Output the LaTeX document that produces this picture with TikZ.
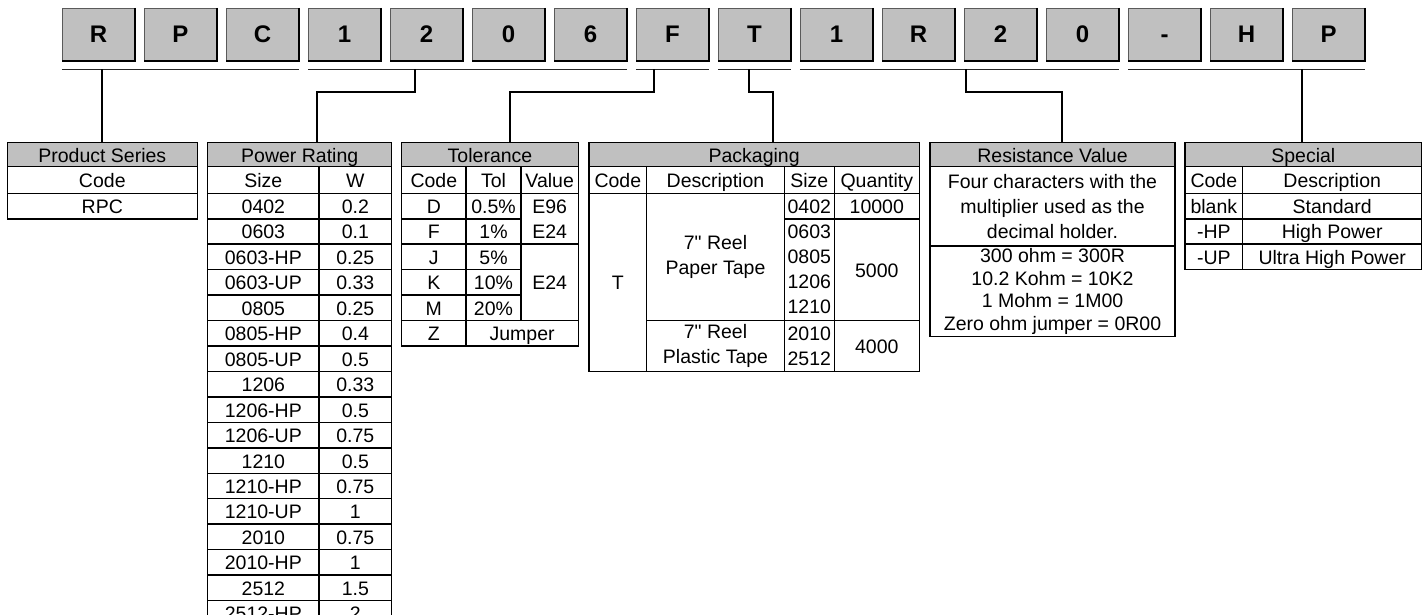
\documentclass[tikz,border=0pt]{standalone}
\usepackage{fontspec}
\setmainfont{Liberation Sans}[Ligatures=TeXOff]
\usetikzlibrary{calc,positioning}
\definecolor{hdrgray}{HTML}{C0C0C0}
\definecolor{rimgray}{HTML}{5A5A5A}
\tikzset{
  digitbox/.style={draw=rimgray,fill=hdrgray,line width=1pt,inner sep=0pt,
    minimum width=72.5pt,minimum height=51.7pt,text height=17.2pt,text depth=0pt,
    font=\fontsize{24}{28}\selectfont\bfseries},
  boxshade/.style={draw=black,line width=2pt},
  uline/.style={draw=black!85,line width=1.5pt},
  conn/.style={draw=black,line width=2pt},
  cellbox/.style={draw=black,line width=1.5pt,inner sep=0pt},
  oneline/.style={text height=15pt,text depth=0pt},
  multi/.style={align=center},
  hdr/.style={fill=hdrgray}}
% cell from (x1,y1) to (x2,y2)
\newcommand\tcell[7][oneline]{%
  \node[cellbox,#1,minimum width=#5pt-#3pt,minimum height=#6pt-#4pt]
    (#2) at ({(#3+#5)/2},{(#4+#6)/2}) {#7};}

\begin{document}
\begin{tikzpicture}[x=1pt,y=-1pt,every node/.style={font=\fontsize{19.5}{25}\selectfont}]
\useasboundingbox (0,0) rectangle (1427,615);
\clip (0,0) rectangle (1427,615);

% part number boxes
\foreach \c [count=\i from 0] in {R,P,C,1,2,0,6,F,T,1,R,2,0,-,H,P}{
  \node[digitbox] (b\i) at (98.5+82*\i,34.2) {\c};
  \draw[boxshade] (b\i.north east) -- (b\i.south east) -- (b\i.south west);
}
\coordinate (ul) at (0,69.5);
\foreach \p/\q in {0/2,3/6,7/7,8/8,9/12,13/15}
  \draw[uline] (b\p.west |- ul) -- (b\q.east |- ul);

% product series
\tcell[oneline,hdr]{hdSer}{7.3}{142.3}{197.3}{166.7}{Product Series}
\tcell{serCode}{7.3}{166.7}{197.3}{193.3}{Code}
\tcell{serRPC}{7.3}{193.3}{197.3}{218.75}{RPC}

% power rating
\tcell[oneline,hdr]{hdPow}{207.7}{142.3}{391.7}{166.7}{Power Rating}
\tcell{powSize}{207.7}{166.7}{319}{193.3}{Size}
\tcell{powW}{319}{166.7}{391.7}{193.3}{W}
\foreach \s/\w [count=\i from 0] in {0402/0.2,0603/0.1,0603-HP/0.25,0603-UP/0.33,
    0805/0.25,0805-HP/0.4,0805-UP/0.5,1206/0.33,1206-HP/0.5,1206-UP/0.75,
    1210/0.5,1210-HP/0.75,1210-UP/1,2010/0.75,2010-HP/1,2512/1.5,2512-HP/2}{
  \pgfmathsetmacro\ya{193.3+25.45*\i}
  \pgfmathsetmacro\yb{\ya+25.45}
  \tcell{powS\i}{207.7}{\ya}{319}{\yb}{\s}
  \tcell{powV\i}{319}{\ya}{391.7}{\yb}{\w}
}

% tolerance
\tcell[oneline,hdr]{hdTol}{401.7}{142.3}{578.3}{166.7}{Tolerance}
\tcell{tolCode}{401.7}{166.7}{466}{193.3}{Code}
\tcell{tolTol}{466}{166.7}{521}{193.3}{Tol}
\tcell{tolVal}{521}{166.7}{578.3}{193.3}{Value}
\foreach \k/\t [count=\i from 0] in {D/0.5\%,F/1\%,J/5\%,K/10\%,M/20\%}{
  \pgfmathsetmacro\ya{193.3+25.45*\i}
  \pgfmathsetmacro\yb{\ya+25.45}
  \tcell{tolK\i}{401.7}{\ya}{466}{\yb}{\k}
  \tcell{tolT\i}{466}{\ya}{521}{\yb}{\t}
}
\tcell[multi]{tolE1}{521}{193.3}{578.3}{244.2}{E96\\E24}
\tcell{tolE2}{521}{244.2}{578.3}{320.55}{E24}
\tcell{tolZ}{401.7}{320.55}{466}{346}{Z}
\tcell{tolJmp}{466}{320.55}{578.3}{346}{Jumper}

% packaging
\tcell[oneline,hdr]{hdPack}{589}{142.3}{919.3}{166.7}{Packaging}
\tcell{pkCode}{589}{166.7}{646.7}{193.3}{Code}
\tcell{pkDesc}{646.7}{166.7}{784.3}{193.3}{Description}
\tcell{pkSize}{784.3}{166.7}{834.3}{193.3}{Size}
\tcell{pkQty}{834.3}{166.7}{919.3}{193.3}{Quantity}
\tcell{pkT}{589}{193.3}{646.7}{371.45}{T}
\tcell[multi]{pkPaper}{646.7}{193.3}{784.3}{320.55}{7" Reel\\Paper Tape}
\tcell[multi]{pkPlastic}{646.7}{320.55}{784.3}{371.45}{7" Reel\\Plastic Tape}
\tcell{pkS1}{784.3}{193.3}{834.3}{218.75}{0402}
\tcell[multi]{pkS2}{784.3}{218.75}{834.3}{320.55}{0603\\0805\\1206\\1210}
\tcell[multi]{pkS3}{784.3}{320.55}{834.3}{371.45}{2010\\2512}
\tcell{pkQ1}{834.3}{193.3}{919.3}{218.75}{10000}
\tcell{pkQ2}{834.3}{218.75}{919.3}{320.55}{5000}
\tcell{pkQ3}{834.3}{320.55}{919.3}{371.45}{4000}

% resistance value
\tcell[oneline,hdr]{hdRes}{930}{142.3}{1175}{166.7}{Resistance Value}
\tcell[multi]{resRule}{930}{166.7}{1175}{246}{Four characters with the\\multiplier used as the\\decimal holder.}
\tcell[multi,font=\fontsize{19.5}{22.7}\selectfont]{resEx}{930}{246}{1175}{336.7}{300 ohm = 300R\\10.2 Kohm = 10K2\\1 Mohm = 1M00\\Zero ohm jumper = 0R00}

% special
\tcell[oneline,hdr]{hdSpec}{1185}{142.3}{1421.7}{166.7}{Special}
\tcell{spCode}{1185}{166.7}{1242.7}{193.3}{Code}
\tcell{spDesc}{1242.7}{166.7}{1421.7}{193.3}{Description}
\foreach \k/\d [count=\i from 0] in {blank/Standard,-HP/High Power,-UP/Ultra High Power}{
  \pgfmathsetmacro\ya{193.3+25.45*\i}
  \pgfmathsetmacro\yb{\ya+25.45}
  \tcell{spK\i}{1185}{\ya}{1242.7}{\yb}{\k}
  \tcell{spD\i}{1242.7}{\ya}{1421.7}{\yb}{\d}
}

% connectors
\coordinate (elb) at (0,92.3);
\coordinate (t2) at (415,69.5);    \coordinate (d2) at (317.3,0);
\coordinate (t3) at (654.3,69.5);  \coordinate (d3) at (510,0);
\coordinate (t4) at (749.3,69.5);  \coordinate (d4) at (773.3,0);
\coordinate (t5) at (965.7,69.5);  \coordinate (d5) at (1061.7,0);
\coordinate (t6) at (1301.7,69.5);
\draw[conn] (hdSer.north |- ul) -- (hdSer.north);
\draw[conn] (t2) -- (t2 |- elb) -| (d2 |- hdPow.north);
\draw[conn] (t3) -- (t3 |- elb) -| (d3 |- hdTol.north);
\draw[conn] (t4) -- (t4 |- elb) -| (d4 |- hdPack.north);
\draw[conn] (t5) -- (t5 |- elb) -| (d5 |- hdRes.north);
\draw[conn] (t6) -- (t6 |- hdSpec.north);
\end{tikzpicture}
\end{document}
